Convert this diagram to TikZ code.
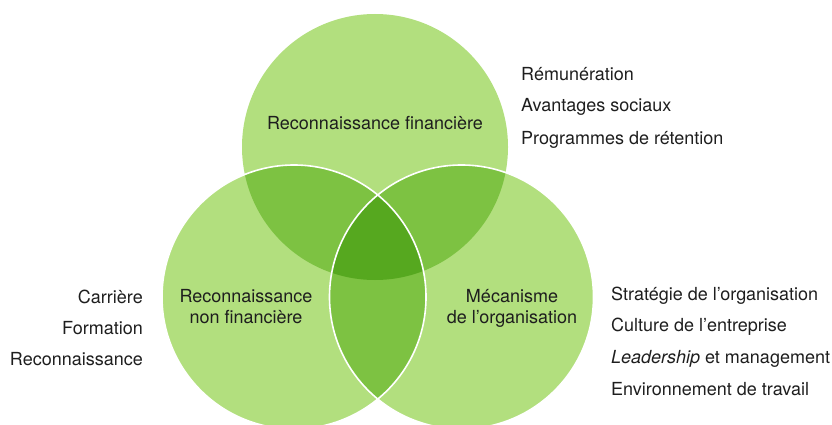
\documentclass[tikz,border=0pt]{standalone}
\usepackage{fontspec}
\setmainfont{TeX Gyre Heros}
\definecolor{lightg}{HTML}{B2DF7E}
\definecolor{midg}{HTML}{7DC242}
\definecolor{darkg}{HTML}{56A81F}
\definecolor{txt}{HTML}{1E1E1E}
\begin{document}
\begin{tikzpicture}[x=1pt,y=-1pt,
  lbl/.style={text=txt, font=\fontsize{18}{21}\selectfont, inner sep=0pt},
  ring/.style={white, line width=1.6pt}]
\useasboundingbox (0,0) rectangle (832,425);
\coordinate (ct) at (375,147);
\coordinate (cl) at (294,297);
\coordinate (cr) at (461.5,297);
\def\CT{(ct) circle[radius=133pt]}
\def\CL{(cl) circle[radius=132pt]}
\def\CR{(cr) circle[radius=132pt]}
\fill[lightg] \CT;
\fill[lightg] \CL;
\fill[lightg] \CR;
\begin{scope}
  \clip \CT;
  \fill[midg] \CL;
  \fill[midg] \CR;
\end{scope}
\begin{scope}
  \clip \CL;
  \fill[midg] \CR;
\end{scope}
\begin{scope}
  \clip \CT;
  \clip \CL;
  \fill[darkg] \CR;
\end{scope}
\draw[ring] \CL;
\draw[ring] \CR;
% circle labels
\node[lbl, anchor=base] (tf) at (375,129) {Reconnaissance financière};
\node[lbl, anchor=base] (nf1) at (246,302) {Reconnaissance};
\node[lbl, anchor=base] (nf2) at (246,323.5) {non financière};
\node[lbl, anchor=base] (mo1) at (512,302) {Mécanisme};
\node[lbl, anchor=base] (mo2) at (512,323.5) {de l’organisation};
% top right list
\node[lbl, anchor=base west] (r1) at (521,81) {Rémunération};
\node[lbl, anchor=base west] (r2) at (521,112) {Avantages sociaux};
\node[lbl, anchor=base west] (r3) at (521,144) {Programmes de rétention};
% left list
\node[lbl, anchor=base east] (l1) at (143,303) {Carrière};
\node[lbl, anchor=base east] (l2) at (143,334) {Formation};
\node[lbl, anchor=base east] (l3) at (143,365) {Reconnaissance};
% right list
\node[lbl, anchor=base west] (s1) at (611,300) {Stratégie de l’organisation};
\node[lbl, anchor=base west] (s2) at (611,331) {Culture de l’entreprise};
\node[lbl, anchor=base west] (s3) at (611,363) {\textit{Leadership} et management};
\node[lbl, anchor=base west] (s4) at (611,395) {Environnement de travail};
\end{tikzpicture}
\end{document}
